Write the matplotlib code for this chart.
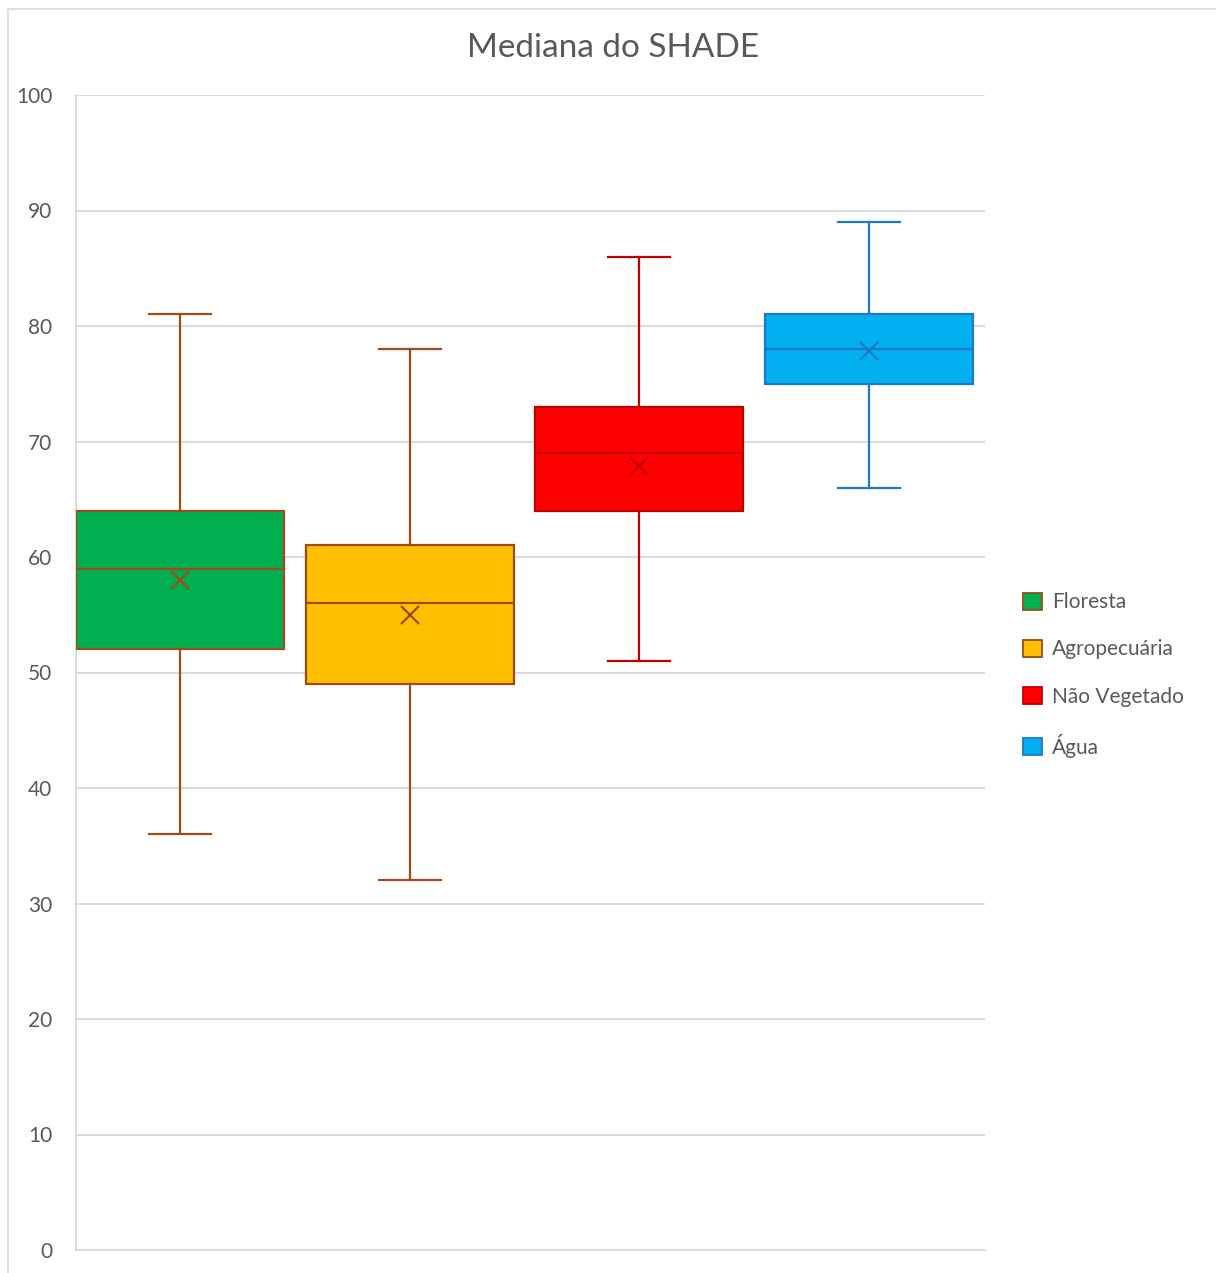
import matplotlib
matplotlib.use("Agg")
import matplotlib.pyplot as plt
from matplotlib.patches import Rectangle, Patch

plt.rcParams['font.family'] = ['Lato', 'DejaVu Sans']

categories = ["Floresta", "Agropecuária", "Não Vegetado", "Água"]
whisker_low = [36, 32, 51, 66]
q1 = [52, 49, 64, 75]
median = [59, 56, 69, 78]
q3 = [64, 61, 73, 81]
whisker_high = [81, 78, 86, 89]
mean = [58, 55, 67.9, 77.8]

fill_colors = ["#00B050", "#FFC000", "#FF0000", "#00B0F0"]
line_colors = ["#9E4A1A", "#9E4A1A", "#C00000", "#1F78C8"]

W, H, DPI = 1216, 1273, 100
fig = plt.figure(figsize=(W / DPI, H / DPI), dpi=DPI)

# outer chart-area border (runs off the right and bottom edges)
fig.patches.append(Rectangle((8 / W, -0.01), (W + 20) / W, (H - 9) / H + 0.01,
                             transform=fig.transFigure, fill=False,
                             edgecolor="#D9D9D9", linewidth=1.2))

ax = fig.add_axes([76 / W, 23 / H, (985 - 76) / W, (1250 - 95) / H])

stats = []
for i, name in enumerate(categories):
    stats.append(dict(label=name, whislo=whisker_low[i], q1=q1[i], med=median[i],
                      q3=q3[i], whishi=whisker_high[i], mean=mean[i], fliers=[]))

positions = list(range(len(categories)))
for i, st in enumerate(stats):
    c = line_colors[i]
    ax.bxp([st], positions=[positions[i]], widths=0.905, patch_artist=True,
           showmeans=True, showfliers=False,
           boxprops=dict(facecolor=fill_colors[i], edgecolor=c, linewidth=1.6),
           medianprops=dict(color=c, linewidth=1.6),
           whiskerprops=dict(color=c, linewidth=1.6),
           capprops=dict(color=c, linewidth=1.6),
           capwidths=0.27,
           meanprops=dict(marker="x", markeredgecolor=c, markersize=13,
                          markeredgewidth=1.6),
           zorder=3)

ax.set_xlim(-0.453, 3.505)
ax.set_ylim(0, 100)
ax.set_yticks(range(0, 101, 10))
ax.set_xticks([])
ax.yaxis.grid(True, color="#D9D9D9", linewidth=1.3)
ax.set_axisbelow(True)
for s in ["top", "right"]:
    ax.spines[s].set_visible(False)
ax.spines["left"].set_color("#D9D9D9")
ax.spines["bottom"].set_color("#D9D9D9")
ax.spines["left"].set_linewidth(1.3)
ax.spines["bottom"].set_linewidth(1.3)
ax.tick_params(axis="y", length=0, pad=17, labelsize=15, labelcolor="#595959")

fig.text(613 / W, 1 - 48 / H, "Mediana do SHADE", ha="center", va="center",
         fontsize=24, color="#595959")

handles = [Patch(facecolor=fill_colors[i], edgecolor=line_colors[i], linewidth=1.3)
           for i in range(len(categories))]
fig.legend(handles, categories, loc="center left",
           bbox_to_anchor=(1004 / W, 1 - 675 / H), frameon=False,
           fontsize=15, labelcolor="#595959", handlelength=0.9, handleheight=0.9,
           handletextpad=0.5, labelspacing=1.3)

fig.savefig("out.png", dpi=DPI)
